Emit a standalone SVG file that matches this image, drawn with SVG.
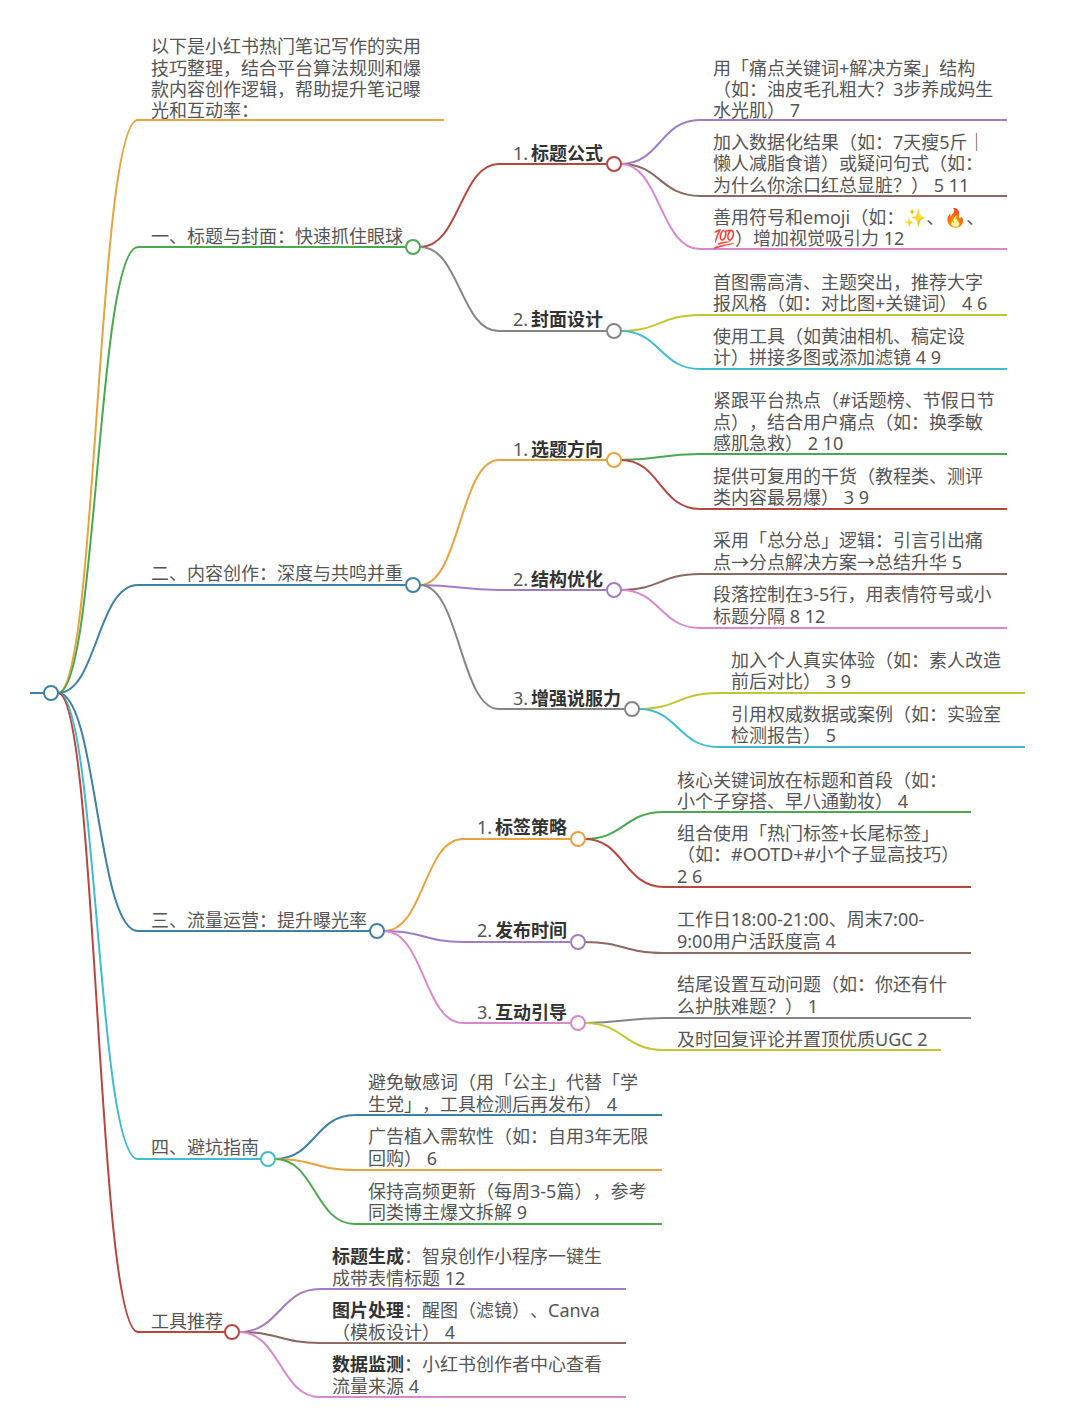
<svg xmlns="http://www.w3.org/2000/svg" width="1080" height="1427" viewBox="0 0 1080 1427">
<style>
text{font-family:"Noto Sans","Noto Sans CJK SC",sans-serif;font-size:18px;fill:#555;text-spacing-trim:space-all}
.b{font-weight:700;fill:#333}
path{fill:none;stroke-width:2}
circle{fill:#fff;stroke-width:2}
.or{stroke:#e8a33d}.gr{stroke:#4aa84f}.bl{stroke:#3d81a6}.te{stroke:#3fbcd0}.re{stroke:#b9453f}
.pu{stroke:#a27cc4}.br{stroke:#8a6a60}.pi{stroke:#d987cf}.ol{stroke:#c4c533}.gy{stroke:#858585}
</style>
<rect width="1080" height="1427" fill="#fff"/>
<g id="connectors">
<path class="or" d="M58 693C97 693 97 120 138 120H444"/>
<path class="gr" d="M58 693C97 693 97 247 138 247H405"/>
<path class="bl" d="M58 693C97 693 97 585 138 585H405"/>
<path class="bl" d="M30 693H44M58 693C97 693 97 931 138 931H370"/>
<path class="te" d="M58 693C97 693 97 1159 138 1159H261"/>
<path class="re" d="M58 693C97 693 97 1332 138 1332H225"/>
<path class="re" d="M420 247C460 247 460 164 499 164H606"/>
<path class="gy" d="M420 247C460 247 460 331 499 331H606"/>
<path class="or" d="M420 585C460 585 460 460 499 460H606"/>
<path class="pu" d="M420 585C460 585 460 590 499 590H606"/>
<path class="gy" d="M420 585C460 585 460 709 499 709H624"/>
<path class="or" d="M384 931C424 931 424 839 463 839H570"/>
<path class="pu" d="M384 931C424 931 424 942 463 942H570"/>
<path class="pi" d="M384 931C424 931 424 1023 463 1023H570"/>
<path class="pu" d="M621 164C660 164 660 120 700 120H1007"/>
<path class="br" d="M621 164C660 164 660 196 700 196H1007"/>
<path class="pi" d="M621 164C660 164 660 249 700 249H1007"/>
<path class="ol" d="M621 331C660 331 660 315 700 315H1007"/>
<path class="te" d="M621 331C660 331 660 369 700 369H1007"/>
<path class="gr" d="M621 460C660 460 660 454 700 454H1007"/>
<path class="re" d="M621 460C660 460 660 509 700 509H1007"/>
<path class="br" d="M621 590C660 590 660 574 700 574H1007"/>
<path class="pi" d="M621 590C660 590 660 628 700 628H1007"/>
<path class="ol" d="M639 709C678 709 678 693 718 693H1025"/>
<path class="te" d="M639 709C678 709 678 747 718 747H1025"/>
<path class="gr" d="M585 839C624 839 624 812 664 812H971"/>
<path class="re" d="M585 839C624 839 624 887 664 887H971"/>
<path class="br" d="M585 942C624 942 624 953 664 953H971"/>
<path class="gy" d="M585 1023C624 1023 624 1018 664 1018H971"/>
<path class="ol" d="M585 1023C624 1023 624 1050 664 1050H941"/>
<path class="bl" d="M275 1159C315 1159 315 1115 355 1115H662"/>
<path class="or" d="M275 1159C315 1159 315 1170 355 1170H662"/>
<path class="gr" d="M275 1159C315 1159 315 1224 355 1224H662"/>
<path class="pu" d="M239 1332C280 1332 280 1289 320 1289H626"/>
<path class="br" d="M239 1332C280 1332 280 1343 320 1343H626"/>
<path class="pi" d="M239 1332C280 1332 280 1397 320 1397H626"/>
</g>
<g id="root"><circle class="bl" cx="51" cy="693" r="7"/></g>
<g id="intro"><text x="151" y="53">以下是小红书热门笔记写作的实用</text><text x="151" y="74.500">技巧整理，结合平台算法规则和爆</text><text x="151" y="96">款内容创作逻辑，帮助提升笔记曝</text><text x="151" y="117">光和互动率：</text></g>
<g id="b1"><text x="151" y="243">一、标题与封面：快速抓住眼球</text><circle class="gr" cx="413" cy="247" r="7"/></g>
<g id="b2"><text x="151" y="580">二、内容创作：深度与共鸣并重</text><circle class="bl" cx="413" cy="585" r="7"/></g>
<g id="b3"><text x="151" y="927">三、流量运营：提升曝光率</text><circle class="bl" cx="377" cy="931" r="7"/></g>
<g id="b4"><text x="151" y="1154">四、避坑指南</text><circle class="te" cx="268" cy="1159" r="7"/></g>
<g id="b5"><text x="151" y="1328">工具推荐</text><circle class="re" cx="232" cy="1332" r="7"/></g>
<g id="n11"><text x="513" y="160">1. <tspan class="b" x="531">标题公式</tspan></text><circle class="re" cx="614" cy="164" r="7"/></g>
<g id="n12"><text x="513" y="326">2. <tspan class="b" x="531">封面设计</tspan></text><circle class="gy" cx="614" cy="331" r="7"/></g>
<g id="n21"><text x="513" y="456">1. <tspan class="b" x="531">选题方向</tspan></text><circle class="or" cx="614" cy="460" r="7"/></g>
<g id="n22"><text x="513" y="586">2. <tspan class="b" x="531">结构优化</tspan></text><circle class="pu" cx="614" cy="590" r="7"/></g>
<g id="n23"><text x="513" y="705">3. <tspan class="b" x="531">增强说服力</tspan></text><circle class="gy" cx="632" cy="709" r="7"/></g>
<g id="n31"><text x="477" y="834">1. <tspan class="b" x="495">标签策略</tspan></text><circle class="or" cx="578" cy="839" r="7"/></g>
<g id="n32"><text x="477" y="937">2. <tspan class="b" x="495">发布时间</tspan></text><circle class="pu" cx="578" cy="942" r="7"/></g>
<g id="n33"><text x="477" y="1019">3. <tspan class="b" x="495">互动引导</tspan></text><circle class="pi" cx="578" cy="1023" r="7"/></g>
<g id="leaves">
<text x="713" y="75">用「痛点关键词+解决方案」结构</text><text x="713" y="96">（如：油皮毛孔粗大？3步养成妈生</text><text x="713" y="117">水光肌） 7</text>
<text x="713" y="149">加入数据化结果（如：7天瘦5斤｜</text><text x="713" y="170">懒人减脂食谱）或疑问句式（如：</text><text x="713" y="192">为什么你涂口红总显脏？） 5 11</text>
<text x="713" y="224">善用符号和emoji（如：✨、🔥、</text><text x="713" y="245">💯）增加视觉吸引力 12</text>
<text x="713" y="289">首图需高清、主题突出，推荐大字</text><text x="713" y="310">报风格（如：对比图+关键词） 4 6</text>
<text x="713" y="343">使用工具（如黄油相机、稿定设</text><text x="713" y="364">计）拼接多图或添加滤镜 4 9</text>
<text x="713" y="407">紧跟平台热点（#话题榜、节假日节</text><text x="713" y="429">点），结合用户痛点（如：换季敏</text><text x="713" y="450">感肌急救） 2 10</text>
<text x="713" y="483">提供可复用的干货（教程类、测评</text><text x="713" y="504">类内容最易爆） 3 9</text>
<text x="713" y="547">采用「总分总」逻辑：引言引出痛</text><text x="713" y="569">点→分点解决方案→总结升华 5</text>
<text x="713" y="601">段落控制在3-5行，用表情符号或小</text><text x="713" y="623">标题分隔 8 12</text>
<text x="731" y="667">加入个人真实体验（如：素人改造</text><text x="731" y="688">前后对比） 3 9</text>
<text x="731" y="721">引用权威数据或案例（如：实验室</text><text x="731" y="742">检测报告） 5</text>
<text x="677" y="787">核心关键词放在标题和首段（如：</text><text x="677" y="808">小个子穿搭、早八通勤妆） 4</text>
<text x="677" y="840">组合使用「热门标签+长尾标签」</text><text x="677" y="861">（如：#OOTD+#小个子显高技巧）</text><text x="677" y="883">2 6</text>
<text x="677" y="926">工作日18:00-21:00、周末7:00-</text><text x="677" y="948">9:00用户活跃度高 4</text>
<text x="677" y="991">结尾设置互动问题（如：你还有什</text><text x="677" y="1013">么护肤难题？） 1</text>
<text x="677" y="1046">及时回复评论并置顶优质UGC 2</text>
<text x="368" y="1089">避免敏感词（用「公主」代替「学</text><text x="368" y="1111">生党」，工具检测后再发布） 4</text>
<text x="368" y="1143">广告植入需软性（如：自用3年无限</text><text x="368" y="1165">回购） 6</text>
<text x="368" y="1198">保持高频更新（每周3-5篇），参考</text><text x="368" y="1219">同类博主爆文拆解 9</text>
<text x="332" y="1263"><tspan class="b">标题生成</tspan>：智泉创作小程序一键生</text><text x="332" y="1285">成带表情标题 12</text>
<text x="332" y="1317"><tspan class="b">图片处理</tspan>：醒图（滤镜）、Canva</text><text x="332" y="1339">（模板设计） 4</text>
<text x="332" y="1371"><tspan class="b">数据监测</tspan>：小红书创作者中心查看</text><text x="332" y="1393">流量来源 4</text>
</g>
</svg>
